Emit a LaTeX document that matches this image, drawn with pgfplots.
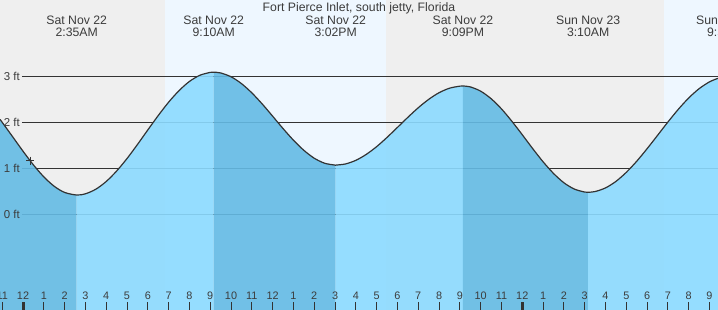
\documentclass[border=0pt]{standalone}
\usepackage{fontspec}
\setmainfont{Liberation Sans}
\usepackage{pgfplots}
\pgfplotsset{compat=1.18}
\definecolor{nightbg}{RGB}{239,239,239}
\definecolor{daybg}{RGB}{238,247,255}
\definecolor{lightfill}{RGB}{140,219,255}
\definecolor{darkfill}{RGB}{100,187,229}
\definecolor{textc}{RGB}{60,60,60}
\definecolor{linec}{RGB}{51,51,51}
\tikzset{
  lbl/.style={text=textc, font=\fontsize{12.3}{12}\selectfont, anchor=base},
  ylbl/.style={anchor=east, inner sep=0pt, text=textc, font=\fontsize{11.5}{12}\selectfont},
}
\begin{document}
\begin{tikzpicture}
\useasboundingbox (0,0) rectangle (718bp,310bp);
\clip (0,0) rectangle (718bp,310bp);
\begin{axis}[
  at={(0,0)}, anchor=south west,
  width=718bp, height=310bp, scale only axis,
  xmin=-1.106, xmax=33.41, ymin=-2.07, ymax=4.67,
  axis line style={draw=none},
  ytick=\empty,
  xtick={-1,0,...,33},
  xticklabels={11,12,1,2,3,4,5,6,7,8,9,10,11,12,1,2,3,4,5,6,7,8,9,10,11,12,1,2,3,4,5,6,7,8,9},
  xtick pos=bottom,
  tick align=inside,
  major tick length=8bp,
  x tick style={draw=linec, line width=1bp},
  xticklabel style={anchor=base, yshift=11bp, font=\fontsize{10.9}{12}\selectfont, text=textc},
  /pgf/number format/assume math mode=true,
  axis on top=true,
]
% day / night backgrounds
\fill[nightbg] (axis cs:-1.106,-2.07) rectangle (axis cs:6.827,4.67);
\fill[daybg] (axis cs:6.827,-2.07) rectangle (axis cs:17.45,4.67);
\fill[nightbg] (axis cs:17.45,-2.07) rectangle (axis cs:30.82,4.67);
\fill[daybg] (axis cs:30.82,-2.07) rectangle (axis cs:33.41,4.67);
% grid lines
\draw[linec, line width=1bp] (axis cs:-0.05,0) -- (axis cs:33.41,0);
\draw[linec, line width=1bp] (axis cs:-0.05,1) -- (axis cs:33.41,1);
\draw[linec, line width=1bp] (axis cs:-0.05,2) -- (axis cs:33.41,2);
\draw[linec, line width=1bp] (axis cs:-0.05,3) -- (axis cs:33.41,3);
% fills: falling tide dark, rising tide light
\addplot[draw=none, fill=darkfill, fill opacity=0.9] coordinates {
 (-1.106,-2.07) (-1.106,2.074) (-1,2.010) (-0.5,1.698) (0,1.383) (0.5,1.085) (1,0.825) (1.5,0.620) (2,0.486) (2.583,0.43) (2.583,-2.07)} -- cycle;
\addplot[draw=none, fill=lightfill, fill opacity=0.9] coordinates {
 (2.583,-2.07) (2.583,0.43) (3,0.456) (3.5,0.556) (4,0.724) (4.5,0.951) (5,1.223) (5.5,1.527) (6,1.845) (6.5,2.157) (7,2.448) (7.5,2.699) (8,2.899) (8.5,3.033) (9,3.096) (9.167,3.1) (9.167,-2.07)} -- cycle;
\addplot[draw=none, fill=darkfill, fill opacity=0.9] coordinates {
 (9.167,-2.07) (9.167,3.1) (9.5,3.084) (10,3.001) (10.5,2.853) (11,2.651) (11.5,2.409) (12,2.144) (12.5,1.875) (13,1.622) (13.5,1.402) (14,1.230) (14.5,1.121) (15,1.080) (15.033,1.08) (15.033,-2.07)} -- cycle;
\addplot[draw=none, fill=lightfill, fill opacity=0.9] coordinates {
 (15.033,-2.07) (15.033,1.08) (15.5,1.105) (16,1.184) (16.5,1.313) (17,1.482) (17.5,1.683) (18,1.900) (18.5,2.119) (19,2.327) (19.5,2.509) (20,2.654) (20.5,2.752) (21,2.797) (21.15,2.8) (21.15,-2.07)} -- cycle;
\addplot[draw=none, fill=darkfill, fill opacity=0.9] coordinates {
 (21.15,-2.07) (21.15,2.8) (21.5,2.781) (22,2.688) (22.5,2.525) (23,2.303) (23.5,2.034) (24,1.741) (24.5,1.440) (25,1.153) (25.5,0.900) (26,0.697) (26.5,0.560) (27,0.494) (27.167,0.49) (27.167,-2.07)} -- cycle;
\addplot[draw=none, fill=lightfill, fill opacity=0.9] coordinates {
 (27.167,-2.07) (27.167,0.49) (27.5,0.505) (28,0.584) (28.5,0.725) (29,0.922) (29.5,1.163) (30,1.436) (30.5,1.725) (31,2.016) (31.5,2.292) (32,2.539) (32.5,2.741) (33,2.890) (33.41,2.967) (33.41,-2.07)} -- cycle;
% tide curve
\addplot[linec, line width=1.2bp, no marks, smooth] coordinates {
 (-1.106,2.074) (-1,2.010) (-0.5,1.698) (0,1.383) (0.5,1.085) (1,0.825) (1.5,0.620) (2,0.486) (2.583,0.43)
 (3,0.456) (3.5,0.556) (4,0.724) (4.5,0.951) (5,1.223) (5.5,1.527) (6,1.845) (6.5,2.157) (7,2.448) (7.5,2.699) (8,2.899) (8.5,3.033) (9,3.096) (9.167,3.1)
 (9.5,3.084) (10,3.001) (10.5,2.853) (11,2.651) (11.5,2.409) (12,2.144) (12.5,1.875) (13,1.622) (13.5,1.402) (14,1.230) (14.5,1.121) (15,1.080) (15.033,1.08)
 (15.5,1.105) (16,1.184) (16.5,1.313) (17,1.482) (17.5,1.683) (18,1.900) (18.5,2.119) (19,2.327) (19.5,2.509) (20,2.654) (20.5,2.752) (21,2.797) (21.15,2.8)
 (21.5,2.781) (22,2.688) (22.5,2.525) (23,2.303) (23.5,2.034) (24,1.741) (24.5,1.440) (25,1.153) (25.5,0.900) (26,0.697) (26.5,0.560) (27,0.494) (27.167,0.49)
 (27.5,0.505) (28,0.584) (28.5,0.725) (29,0.922) (29.5,1.163) (30,1.436) (30.5,1.725) (31,2.016) (31.5,2.292) (32,2.539) (32.5,2.741) (33,2.890) (33.41,2.967)};
% current time marker
\addplot[only marks, mark=+, mark size=4bp, linec, line width=0.8bp] coordinates {(0.337,1.177)};
% midnight ticks
\draw[linec, line width=3bp] (axis cs:0,-2.07) -- (axis cs:0,-1.896);
\draw[linec, line width=3bp] (axis cs:24,-2.07) -- (axis cs:24,-1.896);
% y labels
\node[ylbl] at (axis cs:-0.144,0) {0 ft};
\node[ylbl] at (axis cs:-0.144,1) {1 ft};
\node[ylbl] at (axis cs:-0.144,2) {2 ft};
\node[ylbl] at (axis cs:-0.144,3) {3 ft};
% title and extreme labels
\node[lbl] at (axis cs:16.15,4.416) {Fort Pierce Inlet, south jetty, Florida};
\node[lbl] at (axis cs:2.583,4.142) {Sat Nov 22};
\node[lbl] at (axis cs:2.583,3.887) {2:35AM};
\node[lbl] at (axis cs:9.167,4.142) {Sat Nov 22};
\node[lbl] at (axis cs:9.167,3.887) {9:10AM};
\node[lbl] at (axis cs:15.033,4.142) {Sat Nov 22};
\node[lbl] at (axis cs:15.033,3.887) {3:02PM};
\node[lbl] at (axis cs:21.15,4.142) {Sat Nov 22};
\node[lbl] at (axis cs:21.15,3.887) {9:09PM};
\node[lbl] at (axis cs:27.167,4.142) {Sun Nov 23};
\node[lbl] at (axis cs:27.167,3.887) {3:10AM};
\node[lbl] at (axis cs:33.9,4.142) {Sun Nov 23};
\node[lbl] at (axis cs:33.9,3.887) {9:52AM};
\end{axis}
\end{tikzpicture}
\end{document}
